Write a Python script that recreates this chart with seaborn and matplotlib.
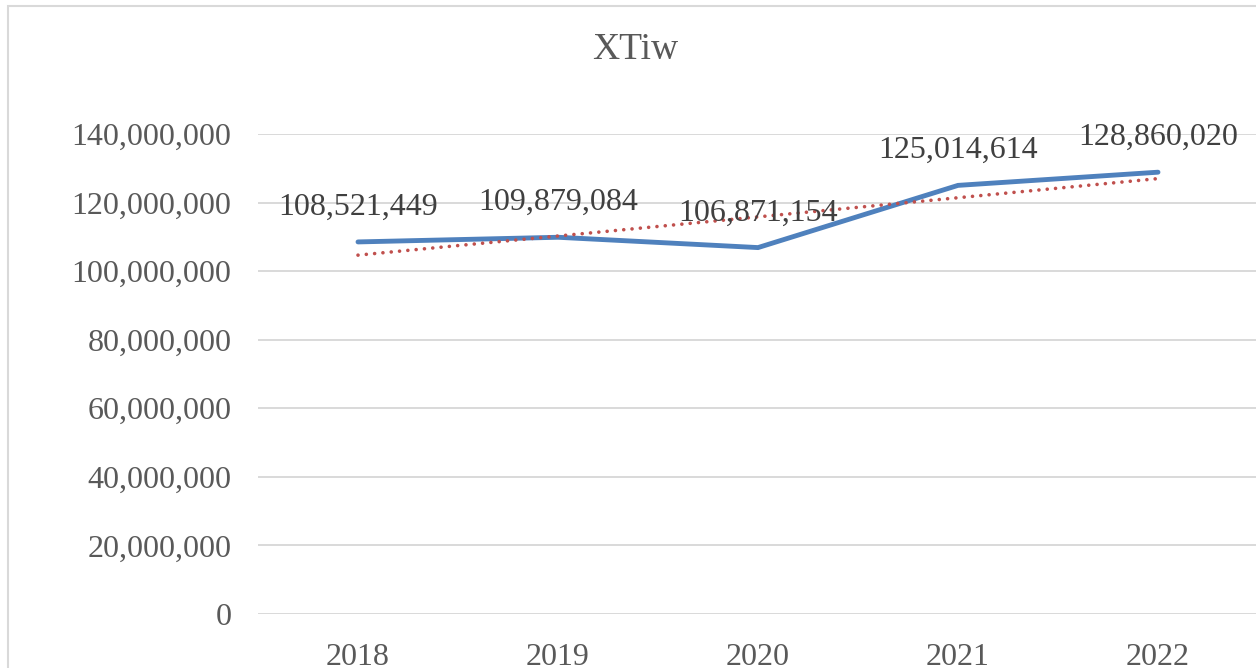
import numpy as np
import pandas as pd
import matplotlib
matplotlib.use("Agg")
import matplotlib.pyplot as plt
from matplotlib.patches import Rectangle
from matplotlib.ticker import FuncFormatter
import seaborn as sns

# Dados do gráfico
years = [2018, 2019, 2020, 2021, 2022]
values = [108521449, 109879084, 106871154, 125014614, 128860020]
title = "XTiw"

df = pd.DataFrame({"year": years, "value": values})

sns.set_theme(style="white")
plt.rcParams["font.family"] = ["Liberation Serif", "DejaVu Serif"]

W, H = 1256, 668
fig = plt.figure(figsize=(W / 100, H / 100), dpi=100)
ax = fig.add_axes([258 / W, 54 / H, 1000 / W, 480 / H])

# Linha principal
sns.lineplot(data=df, x="year", y="value", ax=ax, color="#4F81BD", lw=3.5,
             solid_capstyle="round", solid_joinstyle="miter", zorder=3)

# Linha de tendência linear
sns.regplot(data=df, x="year", y="value", ax=ax, scatter=False, ci=None,
            line_kws=dict(color="#C0504D", lw=2.6, ls=(0, (0.01, 2.3)),
                          dash_capstyle="round", zorder=4))

# Rótulos de dados
for x, y in zip(years, values):
    ax.annotate(f"{y:,}", (x, y), xytext=(0, 25), textcoords="offset points",
                ha="center", va="center", fontsize=23, color="#404040", zorder=5)

ax.set_xlim(min(years) - 0.5, max(years) + 0.5)
ax.set_ylim(0, 140000000)
ax.set_yticks(np.arange(0, 140000001, 20000000))
ax.set_xticks(years)
ax.yaxis.set_major_formatter(FuncFormatter(lambda v, p: f"{int(v):,}"))
ax.tick_params(axis="both", labelsize=23, colors="#595959", length=0)
ax.tick_params(axis="y", pad=19)
ax.tick_params(axis="x", pad=21)
ax.set_xlabel("")
ax.set_ylabel("")
ax.grid(axis="y", color="#D9D9D9", lw=1.4)
ax.grid(axis="x", visible=False)
for s in ax.spines.values():
    s.set_visible(False)
ax.set_facecolor("none")

fig.text(635 / W, 1 - 50 / H, title, ha="center", va="center",
         fontsize=27, color="#595959")

# Borda do gráfico
fig.patches.append(Rectangle((8 / W, -0.1), 2, 1.1 - 6 / H, transform=fig.transFigure,
                             fill=False, edgecolor="#D9D9D9", lw=1.5))

fig.savefig("out.png", dpi=100)
